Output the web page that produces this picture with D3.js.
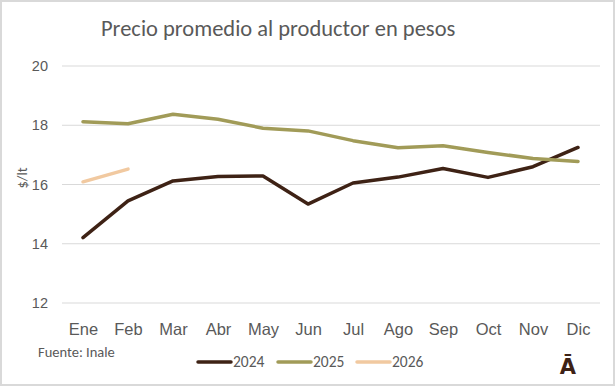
<!DOCTYPE html>
<html>
<head>
<meta charset="utf-8">
<script src="https://cdn.jsdelivr.net/npm/d3@7"></script>
<style>
  body { margin: 0; background: #fff; }
  svg { display: block; font-family: Calibri, Carlito, "Liberation Sans", sans-serif; }
</style>
</head>
<body>
<div id="chart"></div>
<script>
// datos
const meses = ["Ene", "Feb", "Mar", "Abr", "May", "Jun", "Jul", "Ago", "Sep", "Oct", "Nov", "Dic"];
const v2024 = [14.21, 15.45, 16.12, 16.27, 16.29, 15.34, 16.05, 16.25, 16.54, 16.24, 16.6, 17.25];
const v2025 = [18.12, 18.05, 18.37, 18.2, 17.9, 17.81, 17.48, 17.24, 17.31, 17.08, 16.88, 16.78];
const v2026 = [16.09, 16.52];
const yTicks = [12, 14, 16, 18, 20];

const series = [
  {name: "2024", values: v2024, color: "#3e2215"},
  {name: "2025", values: v2025, color: "#a19b58"},
  {name: "2026", values: v2026, color: "#f1c9a0"}
];

const W = 615, H = 386;
const svg = d3.select("#chart").append("svg")
  .attr("width", W)
  .attr("height", H);

// marco
svg.append("rect")
  .attr("x", 1).attr("y", 1)
  .attr("width", W - 2).attr("height", H - 2)
  .attr("fill", "#fff")
  .attr("stroke", "#d9d9d9")
  .attr("stroke-width", 2);

const x = d3.scalePoint()
  .domain(meses)
  .range([83, 578]);

const y = d3.scaleLinear()
  .domain([12, 20])
  .range([303, 66]);

// grilla
svg.append("g")
  .selectAll("line")
  .data(yTicks)
  .enter()
  .append("line")
  .attr("x1", 62)
  .attr("x2", 600)
  .attr("y1", d => y(d))
  .attr("y2", d => y(d))
  .attr("stroke", "#d9d9d9")
  .attr("stroke-width", 1);

// eje y
const yAxis = svg.append("g")
  .attr("transform", "translate(48,0)")
  .call(d3.axisLeft(y).tickValues(yTicks).tickSize(0).tickPadding(0));
yAxis.select(".domain").remove();
yAxis.selectAll("text")
  .attr("fill", "#595959")
  .style("font-size", "14.5px");

// eje x
const xAxis = svg.append("g")
  .attr("transform", "translate(0,323)")
  .call(d3.axisBottom(x).tickSize(0).tickPadding(0));
xAxis.select(".domain").remove();
xAxis.selectAll("text")
  .attr("fill", "#595959")
  .attr("dy", "0.71em")
  .style("font-size", "16.5px");

// lineas
const line = d3.line()
  .x((d, i) => x(meses[i]))
  .y(d => y(d));

svg.append("g")
  .selectAll("path")
  .data(series)
  .enter()
  .append("path")
  .attr("d", d => line(d.values))
  .attr("fill", "none")
  .attr("stroke", d => d.color)
  .attr("stroke-width", 3.5)
  .attr("stroke-linejoin", "round")
  .attr("stroke-linecap", "round");

// titulo
svg.append("text")
  .attr("x", 101)
  .attr("y", 36)
  .attr("fill", "#595959")
  .style("font-size", "22.5px")
  .text("Precio promedio al productor en pesos");

// etiqueta eje y
svg.append("text")
  .attr("transform", "translate(27,178) rotate(-90)")
  .attr("text-anchor", "middle")
  .attr("fill", "#595959")
  .style("font-size", "14.5px")
  .text("$/lt");

// fuente
svg.append("text")
  .attr("x", 38)
  .attr("y", 357)
  .attr("fill", "#595959")
  .style("font-size", "14.5px")
  .text("Fuente: Inale");

// leyenda
const legX = [197, 277, 356];
const leg = svg.append("g")
  .selectAll("g")
  .data(series)
  .enter()
  .append("g")
  .attr("transform", (d, i) => `translate(${legX[i]},362)`);
leg.append("line")
  .attr("x1", 1).attr("x2", 34)
  .attr("stroke", d => d.color)
  .attr("stroke-width", 3.5)
  .attr("stroke-linecap", "round");
leg.append("text")
  .attr("x", 36)
  .attr("dy", "0.35em")
  .attr("fill", "#595959")
  .style("font-size", "15.5px")
  .text(d => d.name);

// logo
svg.append("text")
  .attr("x", 568)
  .attr("y", 374)
  .attr("text-anchor", "middle")
  .attr("fill", "#3e2215")
  .style("font-size", "21px")
  .style("font-weight", "bold")
  .style("font-family", "'DejaVu Sans', sans-serif")
  .text("Ā");
</script>
</body>
</html>
